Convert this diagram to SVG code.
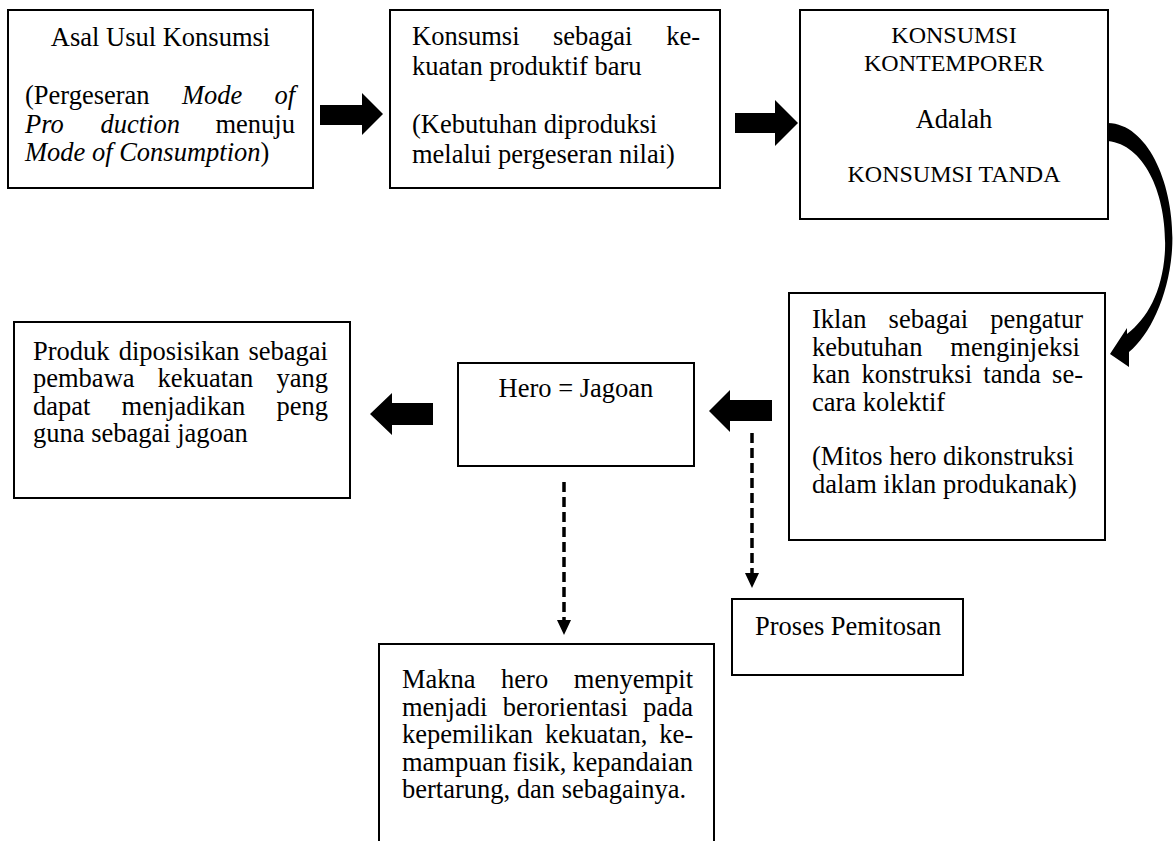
<svg xmlns="http://www.w3.org/2000/svg" width="1174" height="841" viewBox="0 0 1174 841">
<style>
.box{fill:#fff;stroke:#000;stroke-width:2}
.t{font-family:"Liberation Serif","Times New Roman",serif;font-size:26.5px;fill:#000}
.s{font-size:24px}
.c{text-anchor:middle}
.e{text-anchor:end}
.blk{fill:#000;stroke:none}
.dash{fill:none;stroke:#000;stroke-width:3.5;stroke-dasharray:10 5}
</style>
<rect width="1174" height="841" fill="#fff"/>

<g id="asal-usul">
<rect class="box" x="8" y="10" width="305" height="178"/>
<text class="t c" x="160.5" y="46">Asal Usul Konsumsi</text>
<text class="t" y="104"><tspan x="25">(Pergeseran</tspan><tspan x="182" font-style="italic">Mode</tspan><tspan x="274.4" font-style="italic">of</tspan></text>
<text class="t" y="133"><tspan x="25" font-style="italic">Pro</tspan><tspan x="100.4" font-style="italic">duction</tspan><tspan x="215.5">menuju</tspan></text>
<text class="t" x="25" y="161"><tspan font-style="italic">Mode of Consumption</tspan>)</text>
</g>

<g id="kekuatan-produktif">
<rect class="box" x="390" y="10" width="330" height="178"/>
<text class="t" y="45"><tspan x="412">Konsumsi</tspan><tspan x="553">sebagai</tspan><tspan x="666.2">ke-</tspan></text>
<text class="t" x="412" y="75">kuatan produktif baru</text>
<text class="t" x="412" y="133">(Kebutuhan diproduksi</text>
<text class="t" x="412" y="163">melalui pergeseran nilai)</text>
</g>

<g id="konsumsi-kontemporer">
<rect class="box" x="800" y="10" width="308" height="209"/>
<text class="t s c" x="954" y="43">KONSUMSI</text>
<text class="t s c" x="954" y="71">KONTEMPORER</text>
<text class="t c" x="954" y="128">Adalah</text>
<text class="t s c" x="954" y="182">KONSUMSI TANDA</text>
</g>

<g id="iklan">
<rect class="box" x="789" y="293" width="316" height="247"/>
<text class="t" y="328"><tspan x="812">Iklan</tspan><tspan x="888.6">sebagai</tspan><tspan x="990.3">pengatur</tspan></text>
<text class="t" y="355.5"><tspan x="812">kebutuhan</tspan><tspan x="950.3">menginjeksi</tspan></text>
<text class="t" y="383"><tspan x="812">kan</tspan><tspan x="861.6">konstruksi</tspan><tspan x="983.3">tanda</tspan><tspan x="1052.1">se-</tspan></text>
<text class="t" x="812" y="410.5">cara kolektif</text>
<text class="t" x="812" y="465">(Mitos hero dikonstruksi</text>
<text class="t" x="812" y="493">dalam iklan produkanak)</text>
</g>

<g id="hero">
<rect class="box" x="458" y="363" width="236" height="103"/>
<text class="t c" x="576" y="397">Hero = Jagoan</text>
</g>

<g id="produk">
<rect class="box" x="14" y="322" width="336" height="176"/>
<text class="t" y="359.5"><tspan x="33">Produk</tspan><tspan x="118.7">diposisikan</tspan><tspan x="248.5">sebagai</tspan></text>
<text class="t" y="387"><tspan x="33">pembawa</tspan><tspan x="157.6">kekuatan</tspan><tspan x="276.5">yang</tspan></text>
<text class="t" y="414.5"><tspan x="33">dapat</tspan><tspan x="121.6">menjadikan</tspan><tspan x="276.5">peng</tspan></text>
<text class="t" x="33" y="442">guna sebagai jagoan</text>
</g>

<g id="proses-pemitosan">
<rect class="box" x="732" y="599" width="231" height="76"/>
<text class="t" x="755" y="635">Proses Pemitosan</text>
</g>

<g id="makna-hero">
<rect class="box" x="379" y="644" width="335" height="220"/>
<text class="t" y="688"><tspan x="402">Makna</tspan><tspan x="501.1">hero</tspan><tspan x="573.8">menyempit</tspan></text>
<text class="t" y="715.5"><tspan x="402">menjadi</tspan><tspan x="502.7">berorientasi</tspan><tspan x="643">pada</tspan></text>
<text class="t" y="743"><tspan x="402">kepemilikan</tspan><tspan x="545">kekuatan,</tspan><tspan x="659.2">ke-</tspan></text>
<text class="t" y="770.5"><tspan x="402">mampuan</tspan><tspan x="512.6">fisik,</tspan><tspan x="572.3">kepandaian</tspan></text>
<text class="t" x="402" y="798">bertarung, dan sebagainya.</text>
</g>

<g id="connectors">
<polygon class="blk" points="320,105 362,105 362,93 383,114 362,135 362,125 320,125"/>
<polygon class="blk" points="735,113 775,113 775,100 798,123 775,146 775,133 735,133"/>
<path class="blk" d="M1108 123 C1150 124 1176 190 1172 250 C1169 295 1150 335 1129 352 L1129 367 L1110 354 L1127 328 L1127 334 C1148 318 1163 290 1165 250 C1167 195 1145 145 1108 141 Z"/>
<polygon class="blk" points="772,400 730,400 730,390 709,411 730,432 730,421 772,421"/>
<polygon class="blk" points="433,403 392,403 392,393 370,414 392,435 392,425 433,425"/>
<line class="dash" x1="752" y1="433" x2="752" y2="573"/>
<polygon class="blk" points="745,573 759,573 752,588"/>
<line class="dash" x1="564" y1="482" x2="564" y2="620"/>
<polygon class="blk" points="557,620 571,620 564,635"/>
</g>
</svg>
